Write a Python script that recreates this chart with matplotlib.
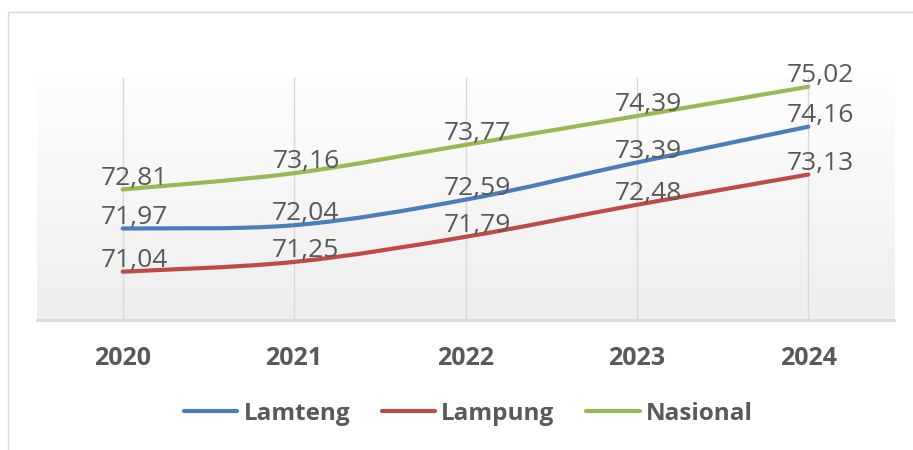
import numpy as np
import matplotlib.pyplot as plt
from matplotlib.path import Path
from matplotlib.patches import PathPatch, Rectangle
from matplotlib.lines import Line2D

# data
years = ['2020', '2021', '2022', '2023', '2024']
lamteng = [71.97, 72.04, 72.59, 73.39, 74.16]
lampung = [71.04, 71.25, 71.79, 72.48, 73.13]
nasional = [72.81, 73.16, 73.77, 74.39, 75.02]

series = [
    ('Lamteng', lamteng, '#4a7ebb'),
    ('Lampung', lampung, '#be4b48'),
    ('Nasional', nasional, '#98b954'),
]

txt = '#595959'
grid = '#d9d9d9'
plt.rcParams['font.family'] = ['Open Sans', 'DejaVu Sans']


def smooth_path(x, y, t=1 / 6):
    # excel-like smoothed line: bezier segments with catmull-rom tangents
    x = np.asarray(x, float)
    y = np.asarray(y, float)
    n = len(x)
    verts = [(x[0], y[0])]
    codes = [Path.MOVETO]
    for i in range(n - 1):
        p0 = i - 1 if i > 0 else i
        p3 = i + 2 if i + 2 < n else i + 1
        c1 = (x[i] + (x[i + 1] - x[p0]) * t, y[i] + (y[i + 1] - y[p0]) * t)
        c2 = (x[i + 1] - (x[p3] - x[i]) * t, y[i + 1] - (y[p3] - y[i]) * t)
        verts += [c1, c2, (x[i + 1], y[i + 1])]
        codes += [Path.CURVE4] * 3
    return Path(verts, codes)


fig = plt.figure(figsize=(9.13, 4.5), dpi=100)
ax = fig.add_axes([37 / 913, 1 - 320 / 450, 857 / 913, 243 / 450])
ax.set_xlim(-0.5, 4.5)
ax.set_ylim(70, 75.23)

# gradient background
grad = np.linspace(0, 1, 256).reshape(-1, 1)
ax.imshow(grad, extent=(-0.5, 4.5, 70, 75.23), aspect='auto', origin='upper',
          cmap=plt.matplotlib.colors.LinearSegmentedColormap.from_list('g', ['#fefefe', '#eeeeee']),
          zorder=0)

xs = np.arange(len(years))
for xv in xs:
    ax.axvline(xv, color=grid, lw=1, zorder=1)

for name, vals, col in series:
    ax.add_patch(PathPatch(smooth_path(xs, vals), fill=False, ec=col, lw=3,
                           capstyle='round', zorder=3))
    for xv, v in zip(xs, vals):
        ax.annotate(f'{v:.2f}'.replace('.', ','), (xv, v), xytext=(8.5, 3.5),
                    textcoords='offset points', ha='center', va='baseline',
                    fontsize=19, color=txt, zorder=4)

for s in ['left', 'right', 'top']:
    ax.spines[s].set_visible(False)
ax.spines['bottom'].set_color(grid)
ax.spines['bottom'].set_linewidth(2)
ax.set_yticks([])
ax.set_xticks(xs)
ax.set_xticklabels(years, fontsize=18, fontweight='bold', color=txt)
ax.tick_params(axis='x', length=0, pad=19)

handles = [Line2D([], [], color=c, lw=3, solid_capstyle='round') for _, _, c in series]
fig.legend(handles, [n for n, _, _ in series], loc='center', ncol=3,
           bbox_to_anchor=(0.513, 1 - 414 / 450), frameon=False,
           prop={'size': 17.5, 'weight': 'bold'}, labelcolor=txt,
           handlelength=2.2, handletextpad=0.25, columnspacing=1.3)

fig.add_artist(Rectangle((8 / 913, -0.1), 2, 1 - 12 / 450 + 0.1, fill=False,
                         ec=grid, lw=1, transform=fig.transFigure))

fig.savefig('out.png', dpi=100)
